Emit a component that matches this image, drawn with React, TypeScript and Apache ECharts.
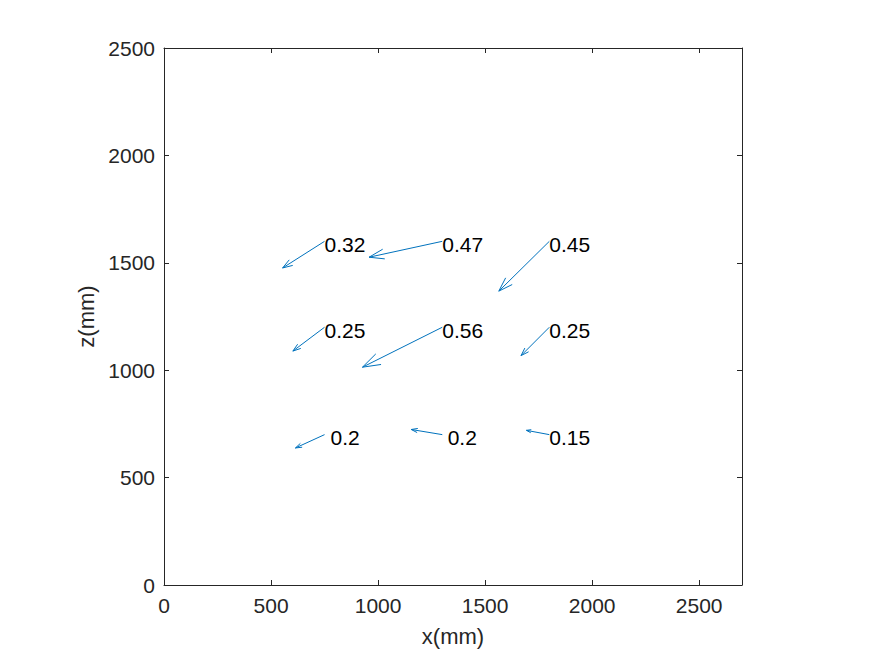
import React, { useEffect, useRef } from "react";
import * as echarts from "echarts";

// arrow tails (mm)
const tailX = [750, 1300, 1800, 750, 1300, 1800, 750, 1300, 1800];
const tailZ = [1600, 1600, 1600, 1200, 1200, 1200, 700, 700, 700];
// arrow components (mm)
const compU = [-196, -342, -236, -148, -373, -132, -136, -145, -107];
const compW = [-124, -74, -232, -111, -186, -132, -62, 24, 20];
// labels
const labelText = ["0.32", "0.47", "0.45", "0.25", "0.56", "0.25", "0.2", "0.2", "0.15"];
const labelX = [750, 1300, 1800, 750, 1300, 1800, 778, 1325, 1800];
const labelZ = [1587, 1587, 1587, 1187, 1187, 1187, 689, 689, 689];

const xTickMin = 0;
const xTickMax = 2700;
const zTickMin = 0;
const zTickMax = 2500;
const tickStep = 500;

const FONT = "'Liberation Sans', Arial, Helvetica, sans-serif";
const AXIS_COLOR = "#262626";
const ARROW_COLOR = "#0072BD";

export default function App() {
  const ref = useRef<HTMLDivElement>(null);

  useEffect(() => {
    if (!ref.current) return;
    const chart = echarts.init(ref.current, undefined, { renderer: "svg" });

    const arrowData = tailX.map((x, i) => [x, tailZ[i], compU[i], compW[i]]);
    const labelData = labelX.map((x, i) => [x, labelZ[i], labelText[i]]);

    const baseAxis = {
      type: "value" as const,
      splitLine: { show: false },
      axisLine: { show: true, onZero: false, lineStyle: { color: AXIS_COLOR, width: 1 } },
      axisTick: { show: true, inside: true, length: 5, lineStyle: { color: AXIS_COLOR } },
    };
    const fmt = (v: number) => String(v);

    chart.setOption({
      animation: false,
      backgroundColor: "#ffffff",
      textStyle: { fontFamily: FONT },
      grid: { left: 164, right: 133, top: 48, bottom: 71, containLabel: false },
      xAxis: [
        {
          ...baseAxis,
          position: "bottom",
          min: xTickMin,
          max: xTickMax,
          interval: tickStep,
          name: "x(mm)",
          nameLocation: "middle",
          nameGap: 40,
          nameTextStyle: { fontSize: 22, color: AXIS_COLOR, fontFamily: FONT },
          axisLabel: { fontSize: 21, color: AXIS_COLOR, margin: 10, fontFamily: FONT, showMaxLabel: false, formatter: fmt },
        },
        {
          ...baseAxis,
          position: "top",
          min: xTickMin,
          max: xTickMax,
          interval: tickStep,
          axisLabel: { show: false },
        },
      ],
      yAxis: [
        {
          ...baseAxis,
          position: "left",
          min: zTickMin,
          max: zTickMax,
          interval: tickStep,
          name: "z(mm)",
          nameLocation: "middle",
          nameGap: 58,
          nameTextStyle: { fontSize: 22, color: AXIS_COLOR, fontFamily: FONT },
          axisLabel: { fontSize: 21, color: AXIS_COLOR, margin: 9, fontFamily: FONT, formatter: fmt },
        },
        {
          ...baseAxis,
          position: "right",
          min: zTickMin,
          max: zTickMax,
          interval: tickStep,
          axisLabel: { show: false },
        },
      ],
      series: [
        {
          type: "custom",
          coordinateSystem: "cartesian2d",
          data: arrowData,
          renderItem: (params: any, api: any) => {
            const x = api.value(0);
            const z = api.value(1);
            const u = api.value(2);
            const w = api.value(3);
            const p0 = api.coord([x, z]);
            const p1 = api.coord([x + u, z + w]);
            const dx = p1[0] - p0[0];
            const dy = p1[1] - p0[1];
            const alpha = 0.2;
            const beta = 0.33;
            const b1 = [p1[0] - alpha * (dx + beta * dy), p1[1] - alpha * (dy - beta * dx)];
            const b2 = [p1[0] - alpha * (dx - beta * dy), p1[1] - alpha * (dy + beta * dx)];
            const style = { stroke: ARROW_COLOR, lineWidth: 1, fill: "none" };
            return {
              type: "group",
              children: [
                { type: "line", shape: { x1: p0[0], y1: p0[1], x2: p1[0], y2: p1[1] }, style },
                { type: "polyline", shape: { points: [b1, p1, b2] }, style },
              ],
            };
          },
          z: 2,
        },
        {
          type: "custom",
          coordinateSystem: "cartesian2d",
          data: labelData,
          renderItem: (params: any, api: any) => {
            const p = api.coord([api.value(0), api.value(1)]);
            return {
              type: "text",
              x: p[0],
              y: p[1],
              style: {
                text: labelText[params.dataIndex],
                fontSize: 21,
                fontFamily: FONT,
                fill: "#000000",
                align: "left",
                verticalAlign: "middle",
              },
            };
          },
          z: 3,
        },
      ],
    });

    return () => chart.dispose();
  }, []);

  return (
    <div
      ref={ref}
      style={{ position: "fixed", left: 0, top: 0, width: 875, height: 656, background: "#fff" }}
    />
  );
}
